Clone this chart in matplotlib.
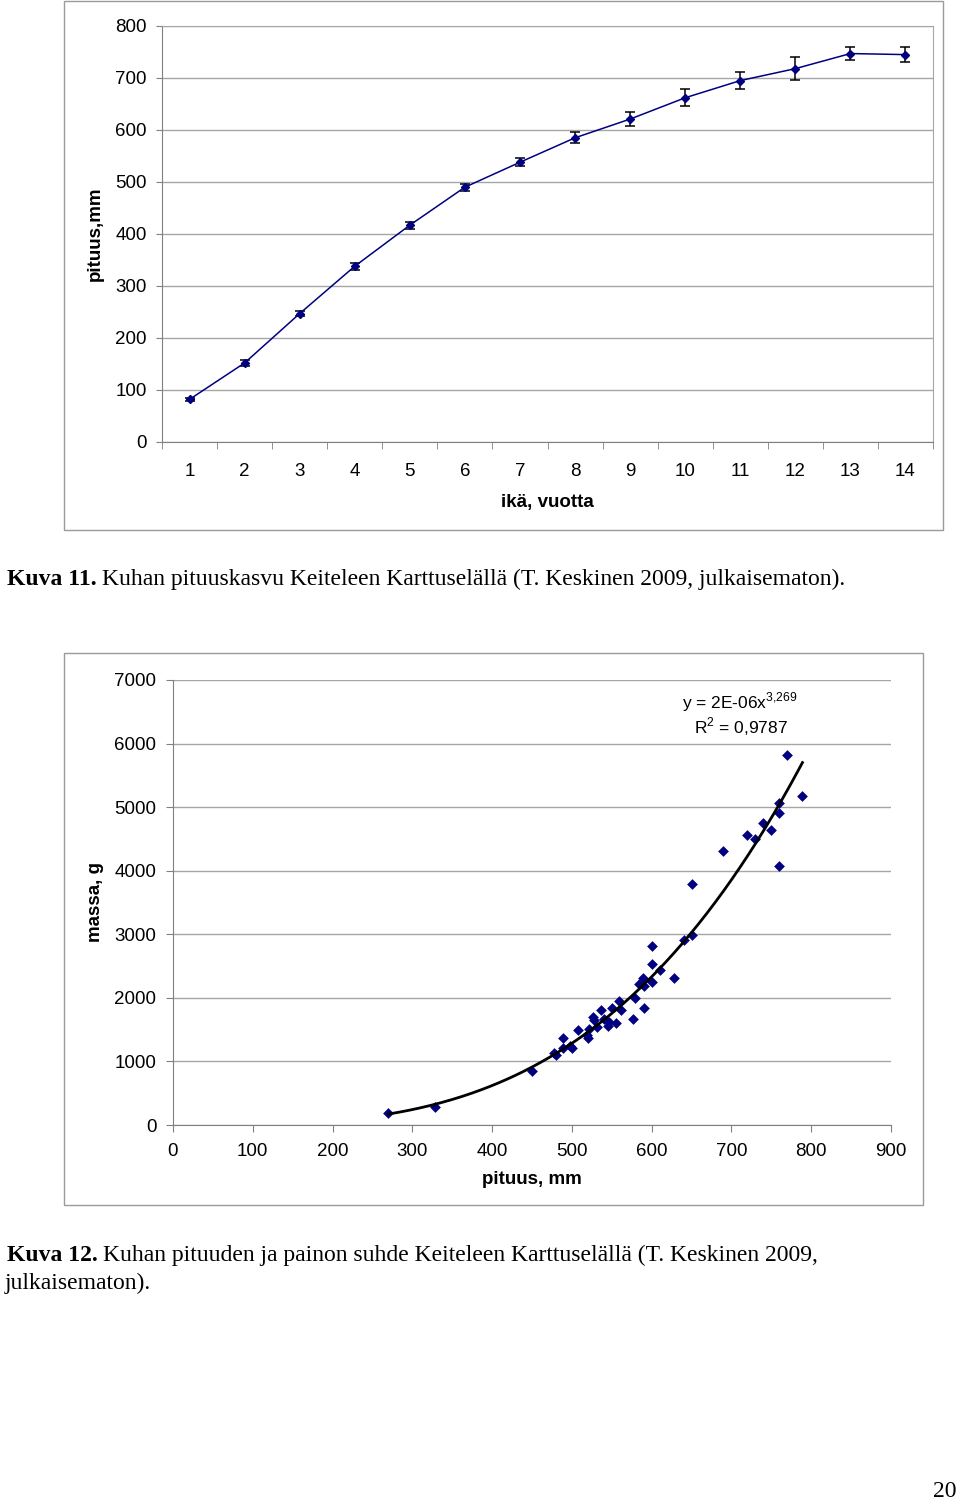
import numpy as np
import matplotlib
matplotlib.use("Agg")
import matplotlib.pyplot as plt
from matplotlib.patches import Rectangle

plt.rcParams["mathtext.fontset"] = "custom"
plt.rcParams["mathtext.rm"] = "Liberation Sans"

# --- data: kuva 11 (pituuskasvu) ---
ika = [1, 2, 3, 4, 5, 6, 7, 8, 9, 10, 11, 12, 13, 14]
pituus = [82, 152, 247, 338, 417, 490, 538, 585, 621, 662, 695, 718, 747, 745]
virhe = [3, 5, 5, 6.5, 7, 7, 8, 10.5, 13, 16, 16, 22, 12.5, 15]

# --- data: kuva 12 (pituus vs massa) ---
pit_mm = [270, 329, 450, 478, 480, 489, 489, 498, 500, 508, 519, 520, 521,
          526, 528, 531, 537, 540, 545, 547, 550, 555, 559, 561, 576, 579,
          584, 589, 590, 590, 600, 600, 600, 610, 628, 640, 650, 650, 689,
          720, 730, 739, 750, 760, 760, 760, 770, 789]
massa_g = [190, 280, 850, 1130, 1095, 1373, 1205, 1250, 1205, 1490, 1415, 1373, 1514,
           1698, 1646, 1541, 1814, 1672, 1551, 1619, 1845, 1604, 1950, 1803, 1661, 1997,
           2223, 2312, 2181, 1835, 2811, 2538, 2249, 2444, 2312, 2906, 2987, 3794, 4312,
           4561, 4503, 4757, 4640, 5063, 4910, 4079, 5815, 5180]

W, H = 960, 1501
fig = plt.figure(figsize=(W / 100, H / 100), dpi=100, facecolor="white")

SANS = "Liberation Sans"
SERIF = "Liberation Serif"
NAVY = "#000080"
GRID = "#a6a6a6"
SPINE = "#808080"


def px_axes(l, t, r, b):
    return fig.add_axes([l / W, 1 - b / H, (r - l) / W, (b - t) / H])


def fx(x):
    return x / W


def fy(y):
    return 1 - y / H


def frame(l, t, r, b):
    fig.add_artist(Rectangle((fx(l), fy(b)), fx(r - l), (b - t) / H,
                             transform=fig.transFigure, fill=False,
                             edgecolor="#9a9a9a", lw=1.0))


def caption(y, bold, rest, size=17):
    t1 = fig.text(fx(7), fy(y), bold, family=SERIF, weight="bold",
                  fontsize=size, va="baseline", ha="left")
    r = fig.canvas.get_renderer()
    bb = t1.get_window_extent(renderer=r)
    fig.text(bb.x1 / W + 5 / W, fy(y), rest, family=SERIF, fontsize=size,
             va="baseline", ha="left")


# ---------------- chart 1 ----------------
frame(64, 1, 943, 530)
ax1 = px_axes(162, 26, 933, 442)
ax1.errorbar(ika, pituus, yerr=virhe, fmt="none", ecolor="black",
             elinewidth=1.1, capsize=3.5, capthick=1.1, zorder=2)
ax1.plot(ika, pituus, color=NAVY, lw=1.1, marker="D", markersize=4.3,
         markerfacecolor=NAVY, markeredgecolor=NAVY, zorder=3)
ax1.set_xlim(0.5, 14.5)
ax1.set_ylim(0, 800)
ax1.set_yticks(range(0, 801, 100))
ax1.set_xticks(ika)
ax1.set_xticks(np.arange(0.5, 15, 1), minor=True)
ax1.tick_params(axis="x", which="major", length=0, pad=15, labelsize=13.5)
ax1.tick_params(axis="x", which="minor", length=5, color=SPINE, direction="out")
ax1.tick_params(axis="y", length=4, pad=7, labelsize=13.5, color=SPINE)
for lab in ax1.get_xticklabels() + ax1.get_yticklabels():
    lab.set_family(SANS)
ax1.grid(axis="y", color=GRID, lw=1.0)
ax1.set_axisbelow(True)
for s in ax1.spines.values():
    s.set_color(GRID)
ax1.spines["left"].set_color(SPINE)
ax1.spines["bottom"].set_color(SPINE)
fig.text(fx(95), fy(234), "pituus,mm", family=SANS, weight="bold",
         fontsize=13.5, rotation=90, ha="center", va="center")
fig.text(fx(547), fy(502), "ikä, vuotta", family=SANS, weight="bold",
         fontsize=13.5, ha="center", va="center")

caption(585, "Kuva 11.", "Kuhan pituuskasvu Keiteleen Karttuselällä (T. Keskinen 2009, julkaisematon).")

# ---------------- chart 2 ----------------
frame(64, 653, 923, 1205)
ax2 = px_axes(173, 680, 891, 1125)
ax2.scatter(pit_mm, massa_g, marker="D", s=30, color=NAVY, linewidths=0, zorder=3)

# power trendline fitted like Excel (least squares in log-log)
b, ln_a = np.polyfit(np.log(pit_mm), np.log(massa_g), 1)
xs = np.linspace(min(pit_mm), max(pit_mm), 200)
ax2.plot(xs, np.exp(ln_a) * xs ** b, color="black", lw=2.0, zorder=4)

ax2.set_xlim(0, 900)
ax2.set_ylim(0, 7000)
ax2.set_xticks(range(0, 901, 100))
ax2.set_yticks(range(0, 7001, 1000))
ax2.tick_params(axis="both", length=5, color=SPINE, labelsize=13.5)
ax2.tick_params(axis="x", pad=8)
ax2.tick_params(axis="y", pad=7)
for lab in ax2.get_xticklabels() + ax2.get_yticklabels():
    lab.set_family(SANS)
ax2.grid(axis="y", color=GRID, lw=1.0)
ax2.set_axisbelow(True)
ax2.spines["right"].set_visible(False)
ax2.spines["top"].set_visible(False)
ax2.spines["left"].set_color(SPINE)
ax2.spines["bottom"].set_color(SPINE)
fig.text(fx(95), fy(902), "massa, g", family=SANS, weight="bold",
         fontsize=13.5, rotation=90, ha="center", va="center")
fig.text(fx(532), fy(1179), "pituus, mm", family=SANS, weight="bold",
         fontsize=13.5, ha="center", va="center")
fig.text(fx(740), fy(702), r"y = 2E-06x$^{3{,}269}$", family=SANS,
         fontsize=12.5, ha="center", va="center")
fig.text(fx(741), fy(727), r"R$^{2}$ = 0,9787", family=SANS,
         fontsize=12.5, ha="center", va="center")

caption(1261, "Kuva 12.", "Kuhan pituuden ja painon suhde Keiteleen Karttuselällä (T. Keskinen 2009,")
fig.text(fx(5), fy(1289), "julkaisematon).", family=SERIF, fontsize=17,
         va="baseline", ha="left")

fig.text(fx(957), fy(1497), "20", family=SERIF, fontsize=17, ha="right", va="baseline")

fig.savefig("out.png", dpi=100, facecolor="white")
